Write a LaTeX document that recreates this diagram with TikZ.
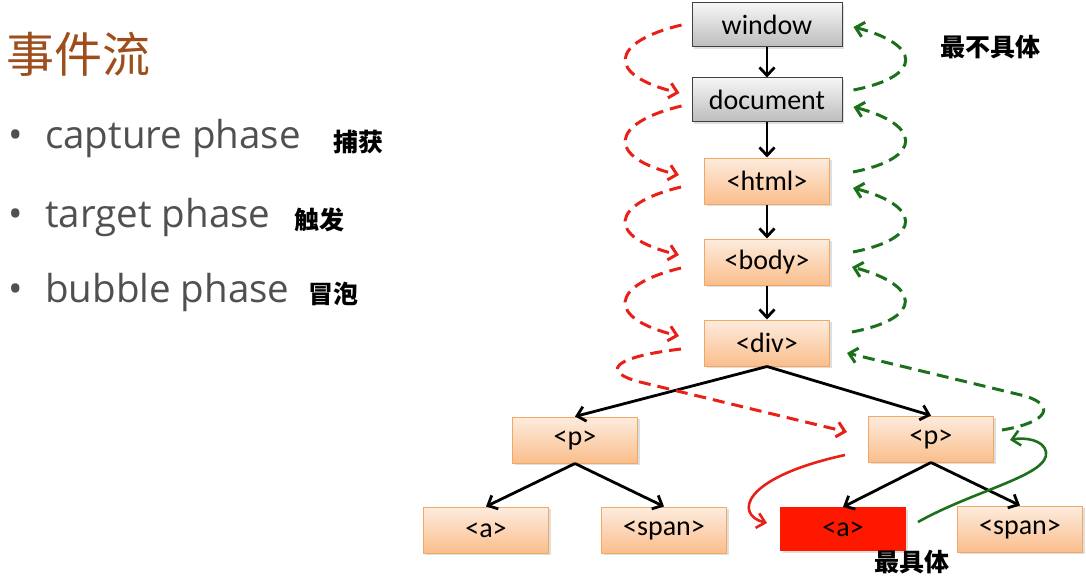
\documentclass[tikz,border=0pt]{standalone}
\usepackage{fontspec}
\setmainfont{Carlito}
\newfontfamily\cjk{Noto Sans CJK SC}
\newfontfamily\listfont{Open Sans}
\usetikzlibrary{arrows.meta,shadows}

\definecolor{orangetop}{RGB}{253,236,222}
\definecolor{orangebot}{RGB}{250,190,140}
\definecolor{orangeline}{RGB}{240,168,100}
\definecolor{graytop}{RGB}{246,246,246}
\definecolor{graybot}{RGB}{188,188,188}
\definecolor{capred}{RGB}{232,32,24}
\definecolor{bubgreen}{RGB}{28,112,28}
\definecolor{titlebrown}{RGB}{158,78,28}
\definecolor{listgray}{RGB}{80,80,80}
\definecolor{hitred}{RGB}{255,24,0}

\tikzset{
  boxbase/.style={line width=1pt, minimum width=125pt, minimum height=46pt,
    font=\fontsize{28}{30}\selectfont,
    drop shadow={opacity=0.25, shadow xshift=2pt, shadow yshift=-2pt}},
  elem/.style={boxbase, draw=orangeline, top color=orangetop, bottom color=orangebot},
  winbox/.style={boxbase, draw=black!75, top color=graytop, bottom color=graybot,
    minimum width=150pt, minimum height=44pt},
  hitbox/.style={boxbase, draw=hitred, fill=hitred, minimum height=43pt},
  tree/.style={-{Straight Barb[length=8pt,width=15pt]}, line width=2.8pt},
  capdash/.style={capred, line width=3pt, dash pattern=on 12pt off 7pt,
    -{Straight Barb[length=8pt,width=15pt]}},
  bubdash/.style={bubgreen, line width=3pt, dash pattern=on 12pt off 7pt,
    -{Straight Barb[length=8pt,width=15pt]}},
  capline/.style={capred, line width=2.6pt, -{Straight Barb[length=8pt,width=15pt]}},
  bubline/.style={bubgreen, line width=2.6pt, -{Straight Barb[length=8pt,width=15pt]}},
  cnlabel/.style={font=\cjk\bfseries\fontsize{25}{28}\selectfont},
  listitem/.style={anchor=base west, inner sep=0pt, text=listgray,
    font=\listfont\fontsize{38.5}{40}\selectfont},
}

\begin{document}
\begin{tikzpicture}[x=1pt,y=-1pt]
\useasboundingbox (0,0) rectangle (1086,583);

% left column
\node[text=titlebrown, font=\cjk\fontsize{48}{52}\selectfont] (title) at (78,54) {事件流};
\node[listitem] (dot1) at (8,148) {•};
\node[listitem] (cap) at (45,148) {capture phase};
\node[cnlabel] (capcn) at (358,142) {捕获};
\node[listitem] (dot2) at (8,227) {•};
\node[listitem] (tgt) at (45,227) {target phase};
\node[cnlabel] (tgtcn) at (319,220) {触发};
\node[listitem] (dot3) at (8,302) {•};
\node[listitem] (bub) at (45,302) {bubble phase};
\node[cnlabel] (bubcn) at (333,294) {冒泡};

% tree
\node[winbox] (win) at (767,25) {window};
\node[winbox] (doc) at (767,100) {document};
\node[elem] (html) at (767,181) {<html>};
\node[elem] (body) at (767,262) {<body>};
\node[elem] (div) at (767,343) {<div>};
\node[elem] (pl) at (575,440) {<p>};
\node[elem] (pr) at (931,439) {<p>};
\node[elem] (al) at (486,530) {<a>};
\node[elem] (sl) at (664,530) {<span>};
\node[hitbox] (hit) at (843,529) {<a>};
\node[elem] (sr) at (1020,529) {<span>};
\node[cnlabel] (top) at (990,47) {最不具体};
\node[cnlabel] (bottom) at (912,562) {最具体};

\draw[tree] (win) -- (doc);
\draw[tree] (doc) -- (html);
\draw[tree] (html) -- (body);
\draw[tree] (body) -- (div);
\draw[tree] (div.south) -- (pl.north);
\draw[tree] (div.south) -- (pr.north);
\draw[tree] (pl.south) -- (al.north);
\draw[tree] (pl.south) -- (sl.north);
\draw[tree] (pr.south) -- (hit.north);
\draw[tree] (pr.south) -- (sr.north);

% capture
\draw[capdash] ([xshift=-10pt]win.west) .. controls (610,42) and (605,75) .. ([xshift=-12pt,yshift=7pt]doc.west);
\draw[capdash] ([xshift=-10pt,yshift=-6pt]doc.west) .. controls (610,123) and (605,157) .. ([xshift=-25pt,yshift=6pt]html.west);
\draw[capdash] ([xshift=-23pt,yshift=-6pt]html.west) .. controls (610,204) and (605,237) .. ([xshift=-25pt,yshift=7pt]body.west);
\draw[capdash] ([xshift=-23pt,yshift=-6pt]body.west) .. controls (610,285) and (605,318) .. ([xshift=-25pt,yshift=7pt]div.west);
\draw[capdash] ([xshift=-23pt,yshift=-6pt]div.west) .. controls (605,358) and (605,373) .. (640,382) -- ([xshift=-21pt,yshift=7pt]pr.west);
\draw[capline] ([xshift=-23pt,yshift=-16pt]pr.west) .. controls (740,478) and (735,515) .. ([xshift=-13pt,yshift=6pt]hit.west);

% bubble
\draw[bubline] ([xshift=12pt,yshift=7pt]hit.east) .. controls (975,490) and (1050,475) .. (1046,452) .. controls (1044,440) and (1025,437) .. ([xshift=16pt,yshift=-1pt]pr.east);
\draw[bubdash] ([xshift=8pt,yshift=9pt]pr.east) .. controls (1050,422) and (1055,405) .. (1025,396) -- ([xshift=17pt,yshift=-10pt]div.east);
\draw[bubdash] ([xshift=22pt,yshift=11pt]div.east) .. controls (925,318) and (920,285) .. ([xshift=22pt,yshift=-5pt]body.east);
\draw[bubdash] ([xshift=23pt,yshift=10pt]body.east) .. controls (925,238) and (920,205) .. ([xshift=23pt,yshift=-7pt]html.east);
\draw[bubdash] ([xshift=23pt,yshift=9pt]html.east) .. controls (925,158) and (920,124) .. ([xshift=11pt,yshift=-7pt]doc.east);
\draw[bubdash] ([xshift=11pt,yshift=10pt]doc.east) .. controls (925,76) and (920,44) .. ([xshift=11pt,yshift=-2pt]win.east);
\end{tikzpicture}
\end{document}
